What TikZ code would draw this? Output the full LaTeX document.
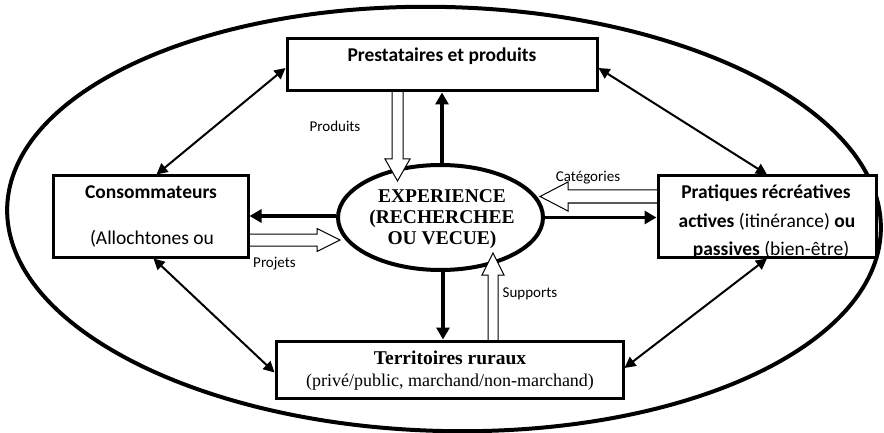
\documentclass[tikz,border=0pt]{standalone}
\usepackage{fontspec}
\setmainfont{Carlito}
\newfontfamily\tnr{Liberation Serif}
\usetikzlibrary{arrows.meta,calc,shapes.geometric}
\begin{document}
\begin{tikzpicture}[x=1pt,y=-1pt,
  box/.style={draw,line width=3pt,fill=white,inner sep=0pt},
  big/.style={font=\fontsize{19.5}{27}\selectfont},
  sub/.style={font=\tnr\fontsize{18}{22}\selectfont},
  lab/.style={font=\fontsize{15}{18}\selectfont},
  txt/.style={inner sep=0pt,anchor=base},
  heavy/.style={line width=3.6pt,-{Triangle[length=12pt,width=13pt]}},
  dbl/.style={line width=2pt,{Triangle[length=11pt,width=11pt]}-{Triangle[length=11pt,width=11pt]}},
  block/.style={draw,line width=1pt,fill=white,line join=miter}]
\useasboundingbox (0,0) rectangle (884,433);

% outer ellipse
\draw[line width=4pt, rotate around={-1.5:(444,219)}] (444,219) ellipse [x radius=437pt, y radius=212pt];

% central ellipse
\node[draw,ellipse,line width=4pt,fill=white,inner sep=0pt,
      minimum width=205pt,minimum height=105pt] (exp) at (440.5,217.5) {};

% block arrows
\draw[block] (392,80) -- (392,159) -- (385,159) -- (397.5,181) -- (410,159) -- (403,159) -- (403,80) -- cycle;
\draw[block] (670,190) -- (568,190) -- (568,182) -- (540,196.5) -- (568,211) -- (568,203) -- (670,203) -- cycle;
\draw[block] (240,234) -- (317,234) -- (317,228.5) -- (340,240) -- (317,251.5) -- (317,246) -- (240,246) -- cycle;
\draw[block] (488,350) -- (488,275) -- (482,275) -- (493,253) -- (504,275) -- (498,275) -- (498,350) -- cycle;

% boxes
\node[box,minimum width=310pt,minimum height=52pt] (prest) at (442,65) {};
\node[box,minimum width=195pt,minimum height=81pt] (cons) at (150.5,216.5) {};
\node[box,minimum width=218pt,minimum height=81pt] (prat) at (767,216.5) {};
\node[box,minimum width=347pt,minimum height=57pt] (terr) at (449.5,369.5) {};

% texts
\node[txt,big] (tprest) at (442,62) {\textbf{Prestataires et produits}};
\node[txt,big] (tcons1) at (151,199) {\textbf{Consommateurs}};
\node[txt,big] (tcons2) at (152,244) {(Allochtones ou};
\begin{scope}
  \clip (prat.north west) rectangle (prat.south east);
  \node[txt,big] (tprat1) at (766,199) {\textbf{Pratiques récréatives}};
  \node[txt,big] (tprat2) at (767,227) {\textbf{actives} (itinérance) \textbf{ou}};
  \node[txt,big] (tprat3) at (771,255) {\textbf{passives} (bien-être)};
\end{scope}
\draw[line width=3pt] ($(prat.north west)+(1.5,1.5)$) rectangle ($(prat.south east)+(-1.5,-1.5)$);
\node[txt,big,font=\tnr\bfseries\fontsize{19.5}{22}\selectfont] (tterr1) at (450,364) {Territoires ruraux};
\node[txt,sub] (tterr2) at (450,386) {(privé/public, marchand/non-marchand)};
\node[txt,font=\tnr\bfseries\fontsize{19.5}{21}\selectfont] (texp1) at (442,202) {EXPERIENCE};
\node[txt,font=\tnr\bfseries\fontsize{19.5}{21}\selectfont] (texp2) at (442,223) {(RECHERCHEE};
\node[txt,font=\tnr\bfseries\fontsize{19.5}{21}\selectfont] (texp3) at (442,244) {OU VECUE)};

% labels
\node[txt,lab] (lprod) at (335,132) {Produits};
\node[txt,lab] (lproj) at (274.5,267) {Projets};
\node[txt,lab] (lcat) at (588,182) {Catégories};
\node[txt,lab] (lsup) at (530,297) {Supports};

% heavy arrows
\draw[heavy] ([xshift=1.5pt]exp.north) -- ([xshift=1.5pt]exp.north |- prest.south);
\draw[heavy] ([xshift=2.5pt]exp.south) -- ([xshift=2.5pt]exp.south |- terr.north);
\draw[heavy] ([yshift=1.5pt]exp.west) -- ([yshift=1.5pt]exp.west -| cons.east);
\draw[heavy] (exp.east) -- (exp.east -| prat.west);

% thin double arrows
\draw[dbl] ([xshift=6pt]cons.north) -- ([yshift=-3pt]prest.west);
\draw[dbl] ([yshift=-3pt]prest.east) -- (prat.north);
\draw[dbl] ([xshift=3pt]cons.south) -- ([yshift=-3pt]terr.west);
\draw[dbl] ([yshift=1.5pt]terr.east) -- (prat.south);
\end{tikzpicture}
\end{document}
